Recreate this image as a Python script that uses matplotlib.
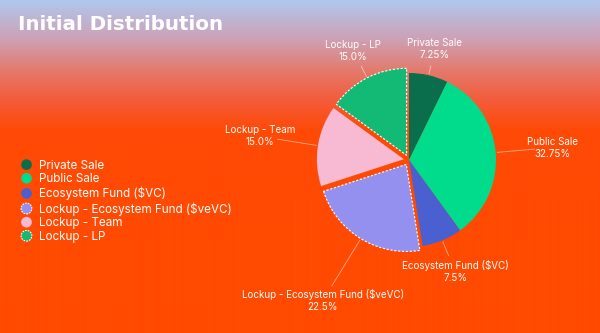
"""Initial token distribution pie chart."""
import matplotlib
matplotlib.use("Agg")
import matplotlib.pyplot as plt
import numpy as np
from matplotlib.patches import Circle, Patch
from matplotlib.legend_handler import HandlerPatch

TITLE = "Initial Distribution"
categories = [
    "Private Sale",
    "Public Sale",
    "Ecosystem Fund ($VC)",
    "Lockup - Ecosystem Fund ($veVC)",
    "Lockup - Team",
    "Lockup - LP",
]
shares = [7.25, 32.75, 7.5, 22.5, 15.0, 15.0]
pct_labels = ["7.25%", "32.75%", "7.5%", "22.5%", "15.0%", "15.0%"]

colors = ["#0a6e4c", "#00dc8c", "#4a60d0", "#9490f0", "#f8bad2", "#12ba76"]
explode = [0, 0, 0, 0.06, 0.06, 0.06]
dashed = [False, False, False, True, False, True]
label_r = [1.31, 1.65, 1.39, 1.90, 1.73, 1.41]

W, H, DPI = 600, 333, 100
CX, CY, R = 409, 160, 87  # pie centre / radius in pixels

# vertical background gradient (pixel row -> rgb)
grad_rows = [0, 38, 70, 100, 130, 333]
grad_rgb = np.array([
    [176, 200, 238],
    [205, 162, 182],
    [228, 122, 108],
    [244, 92, 58],
    [255, 74, 6],
    [255, 74, 0],
]) / 255.0


class HandlerCircle(HandlerPatch):
    def create_artists(self, legend, orig_handle, xdescent, ydescent,
                       width, height, fontsize, trans):
        c = Circle((width / 2 - xdescent, height / 2 - ydescent), radius=height * 0.6)
        self.update_prop(c, orig_handle, legend)
        c.set_transform(trans)
        return [c]


fig = plt.figure(figsize=(W / DPI, H / DPI), dpi=DPI)

bg = fig.add_axes([0, 0, 1, 1])
rows = np.arange(H)
img = np.stack([np.interp(rows, grad_rows, grad_rgb[:, k]) for k in range(3)], axis=-1)
img = np.repeat(img[:, None, :], 4, axis=1)
bg.imshow(img, aspect="auto", extent=[0, 1, 0, 1], interpolation="bilinear")
bg.axis("off")

ax = fig.add_axes([0, 0, 1, 1])

wedges, _ = ax.pie(shares, colors=colors, explode=explode, startangle=90,
                   counterclock=False, radius=1.0,
                   wedgeprops=dict(linewidth=0))
# pie() resets the limits, so map data units to pixels afterwards
ax.set_xlim(-CX / R, (W - CX) / R)
ax.set_ylim(-(H - CY) / R, CY / R)
ax.axis("off")

for w, d in zip(wedges, dashed):
    if d:
        w.set_edgecolor("white")
        w.set_linewidth(0.8)
        w.set_linestyle((0, (2, 1.5)))

# outside labels with thin leader lines
for w, name, pct, lr, ex in zip(wedges, categories, pct_labels, label_r, explode):
    mid = np.deg2rad((w.theta1 + w.theta2) / 2)
    dx, dy = np.cos(mid), np.sin(mid)
    r0 = 1.02 + ex
    r1 = lr - 0.2
    ax.plot([dx * r0, dx * r1], [dy * r0, dy * r1], color="white", lw=0.6, alpha=0.55)
    ax.text(dx * lr, dy * lr, f"{name}\n{pct}", color="white", fontsize=7.1,
            family="Inter", ha="center", va="center", linespacing=1.25)

fig.text(18 / W, 1 - 25 / H, TITLE, color="white", fontsize=14.3,
         fontweight="heavy", ha="left", va="center")

handles = []
for c, d in zip(colors, dashed):
    if d:
        handles.append(Patch(facecolor=c, edgecolor="white", linewidth=0.8,
                             linestyle=(0, (1.5, 1))))
    else:
        handles.append(Patch(facecolor=c, edgecolor=c, linewidth=0))
leg = fig.legend(handles, categories, loc="upper left",
                 bbox_to_anchor=(16 / W, 1 - 155 / H), frameon=False,
                 handler_map={Patch: HandlerCircle()},
                 prop={"family": "Inter", "size": 8.4}, labelcolor="white",
                 handlelength=1.0, handleheight=0.8, handletextpad=0.55,
                 labelspacing=0.14, borderaxespad=0)

fig.savefig("out.png", dpi=DPI)
